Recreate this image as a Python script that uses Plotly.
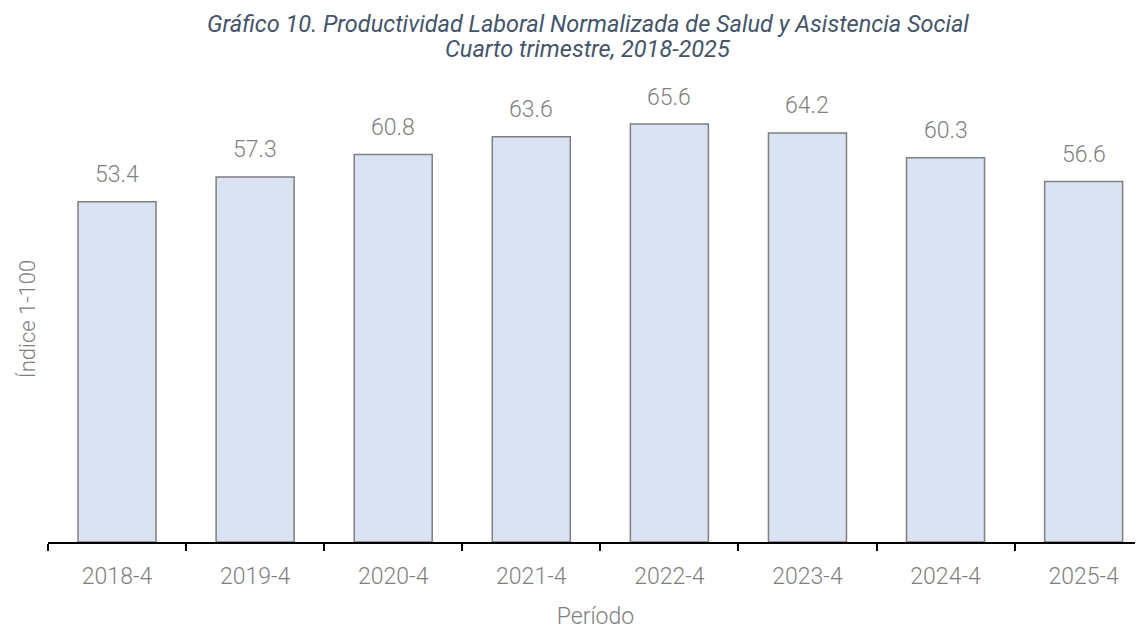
import plotly.graph_objects as go

categories = ["2018-4", "2019-4", "2020-4", "2021-4", "2022-4", "2023-4", "2024-4", "2025-4"]
values = [53.4, 57.3, 60.8, 63.6, 65.6, 64.2, 60.3, 56.6]
labels = ["53.4", "57.3", "60.8", "63.6", "65.6", "64.2", "60.3", "56.6"]

GRAY = "#7f7f7f"
FONT = "Roboto"

fig = go.Figure()
fig.add_trace(go.Bar(
    x=categories, y=values,
    marker=dict(color="#dae3f3", line=dict(color="#7f7f7f", width=1.5)),
    width=0.565,
))

annotations = []
for c, v, t in zip(categories, values, labels):
    annotations.append(dict(
        x=c, y=v, xref="x", yref="y", text=t, showarrow=False,
        yanchor="middle", yshift=27,
        font=dict(family=FONT, size=23, color=GRAY, weight=300),
    ))
annotations.append(dict(
    x=0.493, y=1.1615, xref="paper", yref="paper", showarrow=False,
    xanchor="center", yanchor="middle",
    text="<i>Gráfico 10. Productividad Laboral Normalizada de Salud y Asistencia Social</i>",
    font=dict(family=FONT, size=23.5, color="#44546a"),
))
annotations.append(dict(
    x=0.493, y=1.1055, xref="paper", yref="paper", showarrow=False,
    xanchor="center", yanchor="middle",
    text="<i>Cuarto trimestre, 2018-2025</i>",
    font=dict(family=FONT, size=23.5, color="#44546a"),
))

fig.update_layout(
    width=1135, height=622,
    margin=dict(l=40, r=0, t=88, b=88),
    plot_bgcolor="white", paper_bgcolor="white",
    showlegend=False,
    annotations=annotations,
    xaxis=dict(
        type="category",
        range=[-0.5, 7.43], showline=True, linecolor="black", linewidth=2,
        ticks="outside", tickson="boundaries", ticklen=7, tickwidth=2, tickcolor="black",
        ticklabelstandoff=12,
        tickfont=dict(family=FONT, size=23, color=GRAY, weight=300),
        title=dict(text="Período", font=dict(family=FONT, size=23, color=GRAY, weight=300), standoff=24),
        showgrid=False,
    ),
    yaxis=dict(
        range=[0, 70], showticklabels=False, showgrid=False, zeroline=False, showline=False,
        title=dict(text="Índice 1-100", font=dict(family=FONT, size=22, color=GRAY, weight=300), standoff=5),
    ),
)

fig.write_html("out.html")
